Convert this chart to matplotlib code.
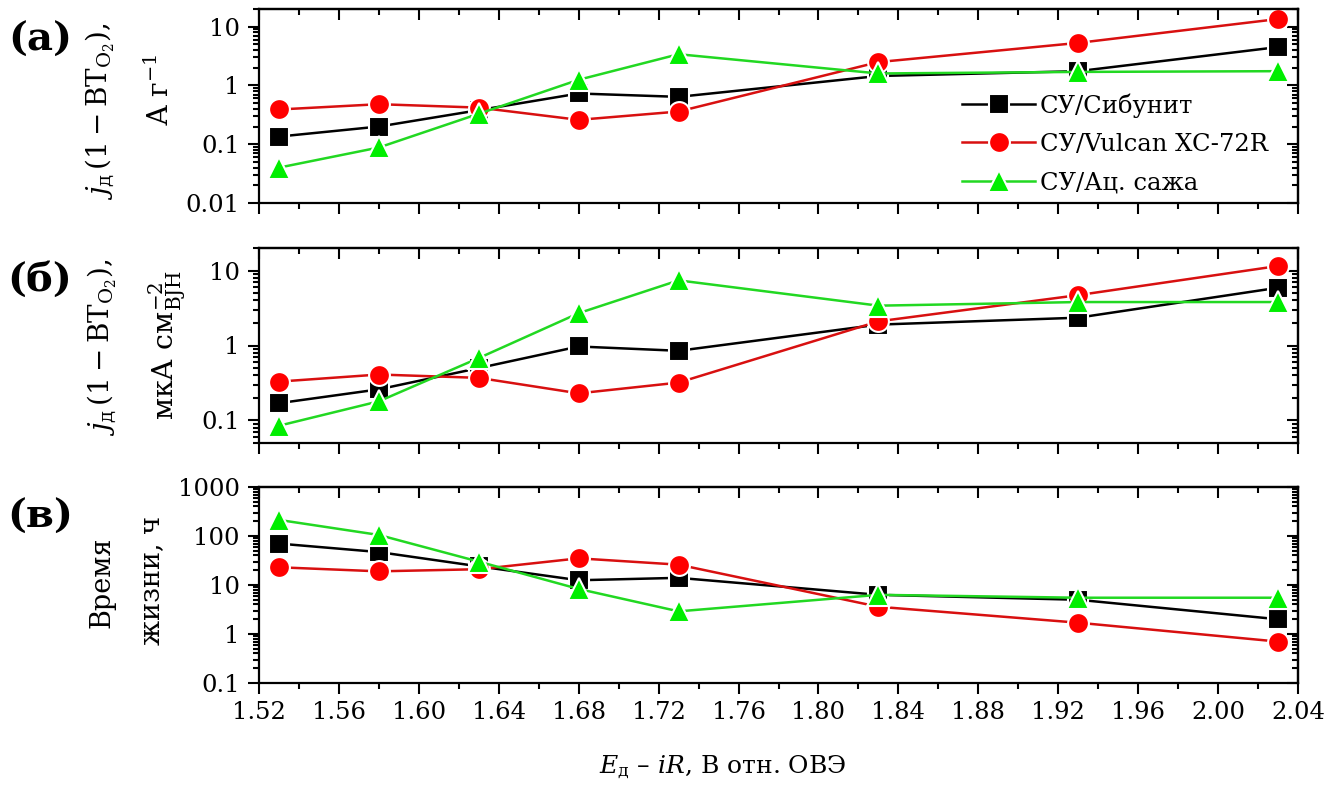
import matplotlib
matplotlib.use("Agg")
import matplotlib.pyplot as plt
from matplotlib.ticker import MultipleLocator, LogLocator, FuncFormatter, NullFormatter

plt.rcParams['font.family'] = ['DejaVu Serif']
plt.rcParams['mathtext.fontset'] = 'dejavuserif'

# potentials, V vs RHE
potential = [1.53, 1.58, 1.63, 1.68, 1.73, 1.83, 1.93, 2.03]

series_names = ["СУ/Сибунит", "СУ/Vulcan XC-72R", "СУ/Ац. сажа"]

# (a) mass-normalised degradation current, A/g
mass_sib = [0.135, 0.20, 0.38, 0.73, 0.64, 1.45, 1.75, 4.5]
mass_vulc = [0.39, 0.48, 0.42, 0.26, 0.36, 2.5, 5.3, 13.5]
mass_acet = [0.04, 0.088, 0.33, 1.25, 3.4, 1.6, 1.7, 1.75]

# (b) area-normalised degradation current, uA/cm2 BJH
area_sib = [0.17, 0.26, 0.5, 0.97, 0.85, 1.9, 2.35, 5.9]
area_vulc = [0.33, 0.41, 0.37, 0.23, 0.32, 2.1, 4.7, 11.5]
area_acet = [0.085, 0.18, 0.68, 2.7, 7.4, 3.4, 3.8, 3.8]

# (c) lifetime, h
life_sib = [70, 47, 24, 12.5, 14, 6.3, 5.0, 2.0]
life_vulc = [23, 19, 21, 35, 26, 3.6, 1.7, 0.7]
life_acet = [213, 105, 30, 8.3, 2.9, 6.3, 5.5, 5.5]

styles = [
    dict(color='black', marker='s', markerfacecolor='black', markersize=14),
    dict(color='#d81010', marker='o', markerfacecolor='#ff0000', markersize=15),
    dict(color='#22d822', marker='^', markerfacecolor='#00ee00', markersize=16),
]

fig = plt.figure(figsize=(13.43, 7.99), dpi=100)

W, H = 1343, 799
left, right = 259, 1298
panels = [(9, 203), (248, 443), (487, 683)]
ylims = [(0.01, 20), (0.05, 20), (0.1, 1000)]
datasets = [
    [mass_sib, mass_vulc, mass_acet],
    [area_sib, area_vulc, area_acet],
    [life_sib, life_vulc, life_acet],
]


def fmt_log(v, pos):
    return '%g' % v


axes = []
for i, (top, bot) in enumerate(panels):
    ax = fig.add_axes([left / W, 1 - bot / H, (right - left) / W, (bot - top) / H])
    for ys, st in zip(datasets[i], styles):
        ax.plot(potential, ys, linewidth=1.8, markeredgecolor='white',
                markeredgewidth=1.5, **st)
    ax.set_yscale('log')
    ax.set_ylim(*ylims[i])
    ax.set_xlim(1.52, 2.04)
    ax.xaxis.set_major_locator(MultipleLocator(0.04))
    ax.xaxis.set_minor_locator(MultipleLocator(0.02))
    ax.yaxis.set_major_locator(LogLocator(base=10, numticks=10))
    ax.yaxis.set_minor_locator(LogLocator(base=10, subs=range(2, 10), numticks=10))
    ax.yaxis.set_major_formatter(FuncFormatter(fmt_log))
    ax.yaxis.set_minor_formatter(NullFormatter())
    ax.xaxis.set_major_formatter(FuncFormatter(lambda v, p: '%.2f' % v))
    for s in ax.spines.values():
        s.set_linewidth(1.6)
    ax.tick_params(which='both', direction='out', width=1.5, labelsize=17.5)
    ax.tick_params(which='major', length=8)
    ax.tick_params(which='minor', length=4)
    ax.tick_params(axis='y', pad=6)
    ax.tick_params(axis='x', pad=5)
    if i < 2:
        ax.tick_params(axis='x', labelbottom=False)

    sx = ax.secondary_xaxis('top')
    sx.xaxis.set_major_locator(MultipleLocator(0.04))
    sx.xaxis.set_minor_locator(MultipleLocator(0.02))
    sx.tick_params(which='both', direction='in', width=1.5, labeltop=False)
    sx.tick_params(which='major', length=8)
    sx.tick_params(which='minor', length=4)
    sy = ax.secondary_yaxis('right')
    sy.yaxis.set_major_locator(LogLocator(base=10, numticks=10))
    sy.yaxis.set_minor_locator(LogLocator(base=10, subs=range(2, 10), numticks=10))
    sy.tick_params(which='both', direction='in', width=1.5, labelright=False)
    sy.tick_params(which='major', length=8)
    sy.tick_params(which='minor', length=4)
    for s in list(sx.spines.values()) + list(sy.spines.values()):
        s.set_linewidth(1.6)
    axes.append(ax)

leg = axes[0].legend(series_names, loc='upper left', bbox_to_anchor=(0.672, 0.59),
                     frameon=False, fontsize=17.5, handlelength=3.0,
                     handletextpad=0.2, labelspacing=0.62, borderpad=0.2,
                     borderaxespad=0)

# panel tags
for tag, ty in zip(['(a)', '(б)', '(в)'], [40, 280, 517]):
    fig.text(40 / W, 1 - ty / H, tag, fontsize=29, fontweight='bold',
             ha='center', va='center')

# y labels
ylab = [
    (100, 111, r"$j_{\mathrm{д}}\,(1 - \mathrm{ВТ}_{\mathrm{O}_2})$,", 20),
    (160, 90, r"А г$^{-1}$", 20),
    (102, 347, r"$j_{\mathrm{д}}\,(1 - \mathrm{ВТ}_{\mathrm{O}_2})$,", 20),
    (167, 345, r"мкА $\mathrm{см}^{-2}_{\mathrm{BJH}}$", 20.5),
    (102, 582, "Время", 19.5),
    (152, 580, "жизни, ч", 19.5),
]
for lx, ly, txt, fs in ylab:
    fig.text(lx / W, 1 - ly / H, txt, fontsize=fs, rotation=90,
             ha='center', va='center')

fig.text(723 / W, 1 - 767 / H, r"$E_{\mathrm{д}}$ – $iR$, В отн. ОВЭ",
         fontsize=18, ha='center', va='center')

fig.savefig('out.png', dpi=100)
